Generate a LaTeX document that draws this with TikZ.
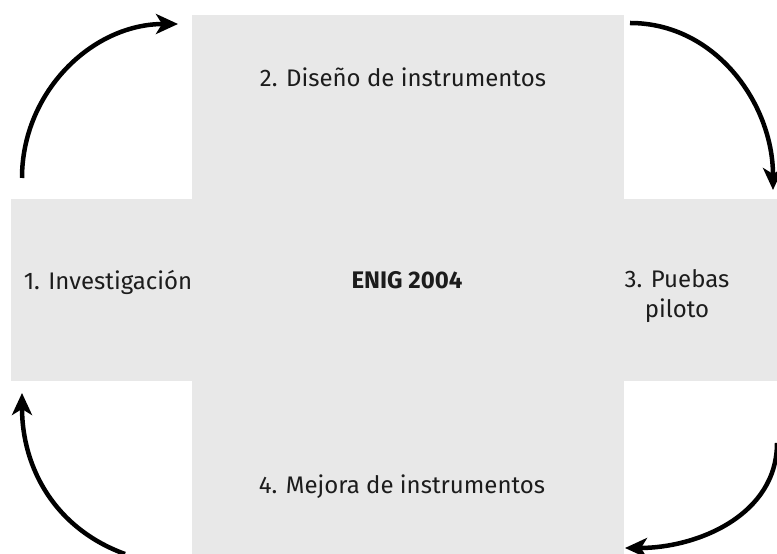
\documentclass[tikz,border=0pt]{standalone}
\usepackage{fontspec}
\setmainfont{Fira Sans}
\usetikzlibrary{arrows.meta}
\definecolor{crossgray}{HTML}{E8E8E8}
\definecolor{inkgray}{HTML}{1C1C1C}
\tikzset{
  lbl/.style={text=inkgray,font=\fontsize{24}{30}\selectfont,align=center},
  loop/.style={line width=4.5pt,-{Stealth[length=22pt,width=20pt,inset=6pt]}}
}
\begin{document}
\begin{tikzpicture}[x=1pt,y=1pt]
\useasboundingbox (0,0) rectangle (777,554);
% the cross
\fill[crossgray] (192,0) rectangle (624,539);
\fill[crossgray] (11,173) rectangle (777,355);
\node[lbl] (inv) at (108,272) {1. Investigación};
\node[lbl,font=\fontsize{24}{30}\selectfont\bfseries] (enig) at (407,274) {ENIG 2004};
\node[lbl] (dis) at (403,477) {2. Diseño de instrumentos};
\node[lbl] (pil) at (677,258) {3. Puebas\\ piloto};
\node[lbl] (mej) at (402,67) {4. Mejora de instrumentos};
\coordinate (s1) at (22,376);  \coordinate (e1) at (178,530);
\coordinate (s2) at (630,531); \coordinate (e2) at (773,364);
\coordinate (s3) at (777,111); \coordinate (e3) at (625,6);
\coordinate (s4) at (125,0);   \coordinate (e4) at (22,161);
\draw[loop] (s1) to [out=90,in=180] (e1);
\draw[loop] (s2) to [out=0,in=90] (e2);
\draw[loop] (s3) to [out=-90,in=0] (e3);
\draw[loop] (s4) to [out=160,in=-90] (e4);
\end{tikzpicture}
\end{document}
